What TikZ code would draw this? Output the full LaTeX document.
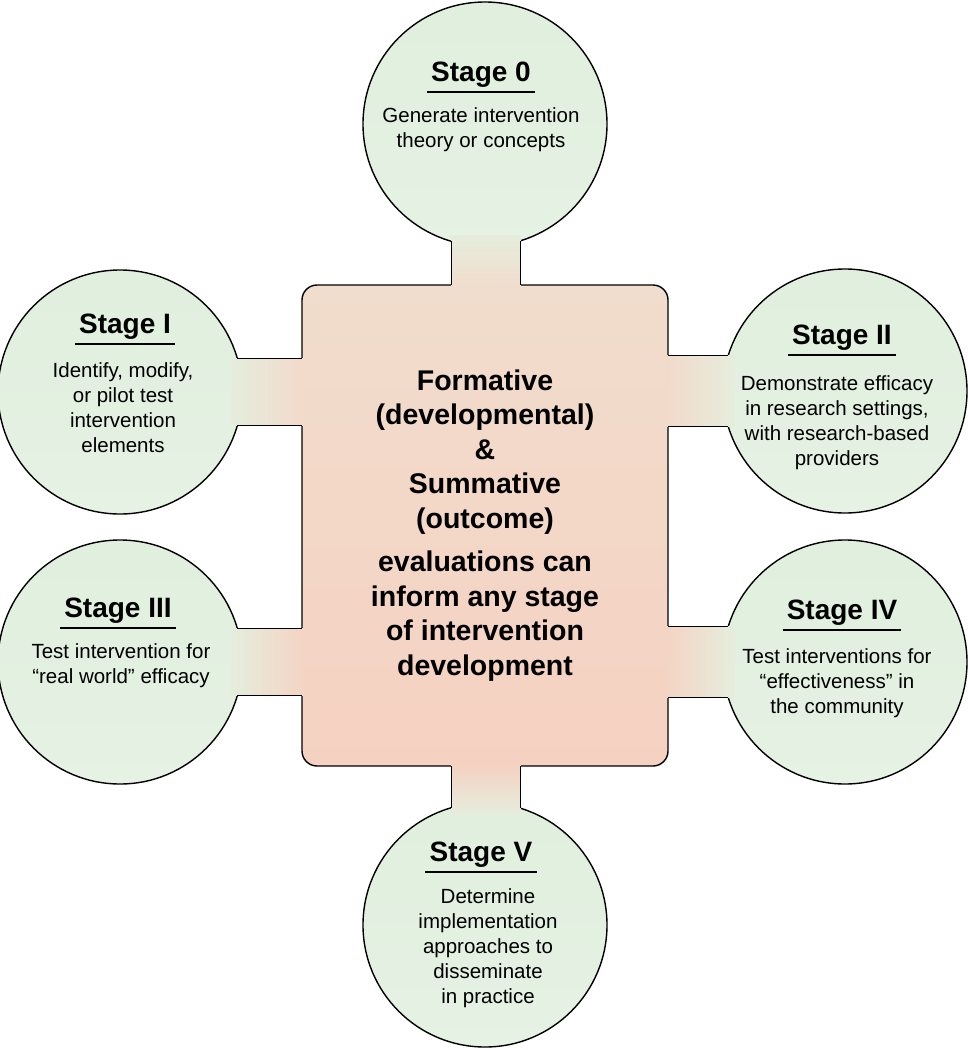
\documentclass[tikz,border=0pt]{standalone}
\usepackage{fontspec}
\setmainfont{Liberation Sans}
\usetikzlibrary{shapes.geometric}

\definecolor{stagegreen}{RGB}{224,239,222}
\definecolor{stagegreenlow}{RGB}{230,242,228}
\definecolor{stemgreen}{RGB}{230,237,221}
\definecolor{corepeachtop}{RGB}{241,221,205}
\definecolor{corepeachbot}{RGB}{245,209,193}
\definecolor{corepeachup}{RGB}{242,218,202}
\definecolor{corepeachlow}{RGB}{244,212,196}

\tikzstyle{stage} = [circle, minimum size=244pt, inner sep=0pt, outer sep=0pt, draw=black, line width=1.4pt, top color=stagegreen, bottom color=stagegreenlow]
\tikzstyle{core} = [rectangle, rounded corners=15pt, minimum width=366pt, minimum height=481pt, inner sep=0pt, outer sep=0pt, draw=black, line width=1.4pt, top color=corepeachtop, bottom color=corepeachbot, align=center, font=\fontsize{28.5}{34.5}\selectfont\bfseries]
\tikzstyle{stagetitle} = [anchor=base, inner sep=0pt, font=\fontsize{28}{34}\selectfont\bfseries]
\tikzstyle{stagebody} = [anchor=base, inner sep=0pt, align=center, font=\fontsize{20.5}{25}\selectfont]
\tikzstyle{titlerule} = [line width=1.5pt]
\tikzstyle{stemside} = [line width=1.4pt]

\begin{document}
\begin{tikzpicture}[x=1pt, y=-1pt]
\useasboundingbox (0,0) rectangle (967,1050);

% Central box
\node (core) [core] at (485,525.5) {Formative\\(developmental)\\\&\\Summative\\(outcome)\\[9pt]evaluations can\\inform any stage\\of intervention\\development};

% Stages
\node (S0) [stage] at (485,124) {};
\node (S1) [stage] at (120,392) {};
\node (S2) [stage] at (845,391) {};
\node (S3) [stage] at (120,662) {};
\node (S4) [stage] at (845,662) {};
\node (S5) [stage] at (485,925) {};

% Stems between stages and central box
\shade [top color=stemgreen, bottom color=corepeachtop] ([yshift=6pt]S0.-106.7) rectangle ([yshift=-2pt]S0.-73.3 |- core.north);
\shade [left color=stemgreen, right color=corepeachup] ([xshift=-6pt]S1.16.7) rectangle ([xshift=2pt]S1.-16.7 -| core.west);
\shade [left color=corepeachup, right color=stemgreen] ([xshift=-2pt]core.east |- S2.163.3) rectangle ([xshift=6pt]S2.-163.3);
\shade [left color=stemgreen, right color=corepeachlow] ([xshift=-6pt]S3.16.7) rectangle ([xshift=2pt]S3.-16.7 -| core.west);
\shade [left color=corepeachlow, right color=stemgreen] ([xshift=-2pt]core.east |- S4.163.3) rectangle ([xshift=6pt]S4.-163.3);
\shade [top color=corepeachbot, bottom color=stemgreen] ([yshift=2pt]S5.106.7 |- core.south) rectangle ([yshift=-6pt]S5.73.3);

\draw [stemside] (S0.-106.7) -- (S0.-106.7 |- core.north);
\draw [stemside] (S0.-73.3) -- (S0.-73.3 |- core.north);
\draw [stemside] (S1.16.7) -- (S1.16.7 -| core.west);
\draw [stemside] (S1.-16.7) -- (S1.-16.7 -| core.west);
\draw [stemside] (S2.163.3) -- (S2.163.3 -| core.east);
\draw [stemside] (S2.-163.3) -- (S2.-163.3 -| core.east);
\draw [stemside] (S3.16.7) -- (S3.16.7 -| core.west);
\draw [stemside] (S3.-16.7) -- (S3.-16.7 -| core.west);
\draw [stemside] (S4.163.3) -- (S4.163.3 -| core.east);
\draw [stemside] (S4.-163.3) -- (S4.-163.3 -| core.east);
\draw [stemside] (S5.106.7) -- (S5.106.7 |- core.south);
\draw [stemside] (S5.73.3) -- (S5.73.3 |- core.south);

% Stage titles
\node (T0) [stagetitle] at (481,81) {Stage 0};
\node (T1) [stagetitle] at (125,333) {Stage I};
\node (T2) [stagetitle] at (842,344) {Stage II};
\node (T3) [stagetitle] at (118,617) {Stage III};
\node (T4) [stagetitle] at (842,619) {Stage IV};
\node (T5) [stagetitle] at (481,861) {Stage V};

\draw [titlerule] ([xshift=-4pt,yshift=-11pt]T0.base west) -- ([xshift=4pt,yshift=-11pt]T0.base east);
\draw [titlerule] ([xshift=-4pt,yshift=-11pt]T1.base west) -- ([xshift=4pt,yshift=-11pt]T1.base east);
\draw [titlerule] ([xshift=-4pt,yshift=-11pt]T2.base west) -- ([xshift=4pt,yshift=-11pt]T2.base east);
\draw [titlerule] ([xshift=-4pt,yshift=-11pt]T3.base west) -- ([xshift=4pt,yshift=-11pt]T3.base east);
\draw [titlerule] ([xshift=-4pt,yshift=-11pt]T4.base west) -- ([xshift=4pt,yshift=-11pt]T4.base east);
\draw [titlerule] ([xshift=-4pt,yshift=-11pt]T5.base west) -- ([xshift=4pt,yshift=-11pt]T5.base east);

% Stage descriptions (base = last line)
\node (B0) [stagebody] at (481,147) {Generate intervention\\theory or concepts};
\node (B1) [stagebody] at (123,452) {Identify, modify,\\or pilot test\\intervention\\elements};
\node (B2) [stagebody] at (837,465) {Demonstrate efficacy\\in research settings,\\with research-based\\providers};
\node (B3) [stagebody] at (121,683) {Test intervention for\\“real world” efficacy};
\node (B4) [stagebody] at (837,713) {Test interventions for\\“effectiveness” in\\the community};
\node (B5) [stagebody] at (488,1003) {Determine\\implementation\\approaches to\\disseminate\\in practice};

\end{tikzpicture}
\end{document}
